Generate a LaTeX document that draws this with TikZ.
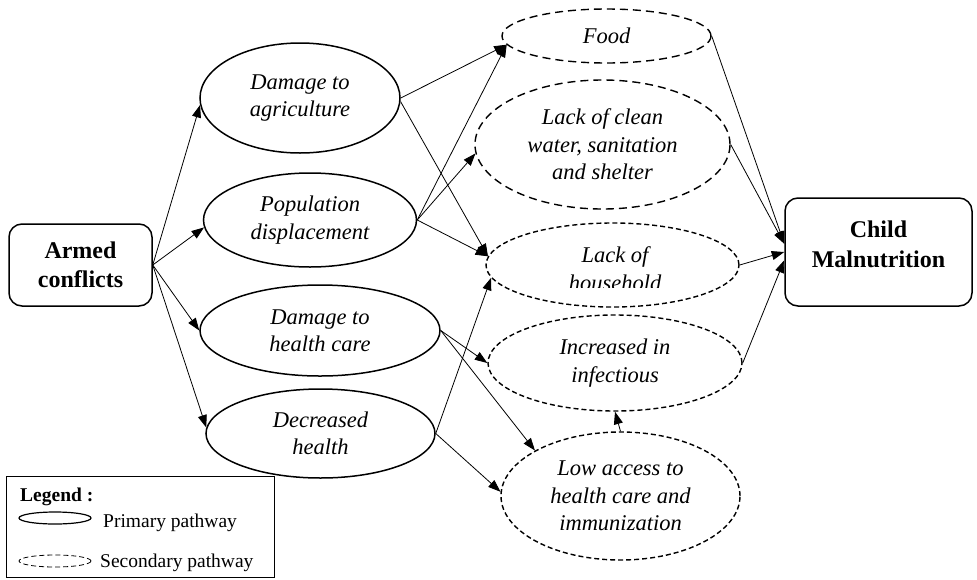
\documentclass[tikz,border=0pt]{standalone}
\usepackage{fontspec}
\setmainfont{Liberation Serif}
\usetikzlibrary{shapes.geometric,arrows.meta,calc}

\begin{document}
\begin{tikzpicture}[x=1pt,y=-1pt,
  lbl/.style={font=\fontsize{22.5}{27.5}\selectfont\itshape, align=center},
  primary/.style={ellipse, draw, line width=1.5pt, inner sep=0pt, lbl},
  secondary/.style={ellipse, draw, line width=1.4pt, dash pattern=on 5pt off 3pt, inner sep=0pt, lbl},
  coarse/.style={dash pattern=on 8pt off 5pt},
  endbox/.style={draw, line width=1.5pt, rounded corners=13pt,
    font=\fontsize{24}{29.5}\selectfont\bfseries, align=center, inner sep=0pt},
  link/.style={line width=0.8pt, -{Triangle[length=12.5pt,width=9pt]}},
  legtext/.style={font=\fontsize{19.5}{23}\selectfont, anchor=base west, inner sep=0pt},
]
\useasboundingbox (0,0) rectangle (977,579);

% end points
\node[endbox, minimum width=143pt, minimum height=82pt] (ac) at (80.5,265) {Armed\\conflicts};
\node[endbox, minimum width=187pt, minimum height=108pt, text depth=16pt] (cm) at (878.5,252) {Child\\Malnutrition};

% primary pathways
\node[primary, minimum width=200pt, minimum height=110pt] (ag) at (300,98) {Damage to\\agriculture};
\node[primary, minimum width=213pt, minimum height=94pt] (pd) at (310,220) {Population\\displacement};
\node[primary, minimum width=240pt, minimum height=91pt] (dhc) at (320,330.5) {Damage to\\health care};
\node[primary, minimum width=229pt, minimum height=89pt] (dh) at (320.5,433.5) {Decreased\\health};

% secondary pathways
\node[secondary, coarse, minimum width=209pt, minimum height=54pt] (food) at (606.5,36) {Food};
\node[secondary, coarse, minimum width=255pt, minimum height=129pt] (water) at (602.5,144.5) {Lack of clean\\water, sanitation\\and shelter};
\node[secondary, minimum width=253pt, minimum height=84pt] (hh) at (612.5,265) {};
\begin{scope}
  \clip (480,230) rectangle (745,287);
  \node[lbl, anchor=base, inner sep=0pt] (hhtop) at (615,262) {Lack of};
  \node[lbl, anchor=base, inner sep=0pt] (hhbot) at (615,290) {household};
\end{scope}
\node[secondary, minimum width=254pt, minimum height=96pt] (inf) at (615,363) {Increased in\\infectious};
\node[secondary, minimum width=239pt, minimum height=128pt] (low) at (620.5,496) {Low access to\\health care and\\immunization};

% connectors
\draw[link] (ac.east) -- (ag.184);
\draw[link] (ac.east) -- (pd.184);
\draw[link] (ac.east) -- (dhc.west);
\draw[link] (ac.east) -- (dh.177);
\draw[link] (ag.east) -- (food.185);
\draw[link] (ag.358) -- (hh.176);
\draw[link] (pd.east) -- (food.185);
\draw[link] (pd.east) -- (water.184);
\draw[link] (pd.east) -- (hh.176);
\draw[link] (dhc.east) -- (inf.west);
\draw[link] (dhc.east) -- (low.152);
\draw[link] (dh.east) -- (hh.186);
\draw[link] (dh.east) -- (low.178);
\draw[link] (low.north) -- (inf.south);
\draw[link] (food.east) -- (cm.175);
\draw[link] (water.east) -- (cm.175);
\draw[link] (hh.east) -- (cm.west);
\draw[link] (inf.east) -- (cm.185);

% legend
\node[draw, line width=0.8pt, minimum width=268pt, minimum height=101pt, inner sep=0pt] (legend) at (140,526.5) {};
\node[legtext, font=\fontsize{19.5}{23}\selectfont\bfseries] (legtitle) at (20,501.5) {Legend :};
\node[ellipse, draw, line width=1.2pt, minimum width=72pt, minimum height=12pt, inner sep=0pt] (legp) at (55,518) {};
\node[legtext] (legptext) at (103,527.5) {Primary pathway};
\node[ellipse, draw, line width=0.8pt, dash pattern=on 5pt off 3pt, minimum width=72pt, minimum height=12pt, inner sep=0pt] (legs) at (55,561) {};
\node[legtext] (legstext) at (100,567) {Secondary pathway};
\end{tikzpicture}
\end{document}
